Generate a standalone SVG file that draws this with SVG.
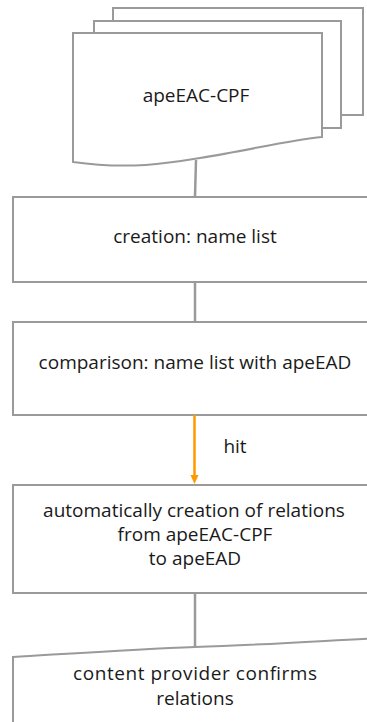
<svg xmlns="http://www.w3.org/2000/svg" width="367" height="722" viewBox="0 0 367 722">
<style>
.shape{fill:#fff;stroke:#9a9a9a;stroke-width:2}
.conn{stroke:#9a9a9a;stroke-width:2.5;fill:none}
.lbl{font-family:"Open Sans","Liberation Sans",sans-serif;font-size:19px;fill:#1a1a1a;text-anchor:middle}
</style>
<g id="node-apeEAC-CPF">
<rect class="shape" x="113" y="8" width="250" height="107"/>
<rect class="shape" x="94" y="21" width="247" height="107"/>
<path class="shape" d="M73,33 L322,33 L322,137 C290,140 250,150 200,158 C170,163 130,170 73,162 Z"/>
<text class="lbl" x="196" y="102">apeEAC-CPF</text>
</g>
<g id="node-creation">
<rect class="shape" x="13" y="197" width="364" height="85"/>
<text class="lbl" x="195" y="243">creation: name list</text>
</g>
<g id="node-comparison">
<rect class="shape" x="13" y="322" width="364" height="93"/>
<text class="lbl" x="195" y="369">comparison: name list with apeEAD</text>
</g>
<g id="node-automatic">
<rect class="shape" x="13" y="485" width="364" height="108"/>
<text class="lbl" x="194" y="517" fill="#000">automatically creation of relations</text>
<text class="lbl" x="195" y="541" fill="#000">from apeEAC-CPF</text>
<text class="lbl" x="195" y="565" fill="#000">to apeEAD</text>
</g>
<g id="node-confirm">
<path class="shape" d="M13,740 L13,657 C80,653 140,649 195,647 C260,645 320,641 380,638 L380,740 Z"/>
<text class="lbl" x="195" y="680" textLength="244">content provider confirms</text>
<text class="lbl" x="195" y="705">relations</text>
</g>
<g id="connectors">
<line class="conn" x1="196" y1="160" x2="195" y2="197"/>
<line class="conn" x1="195" y1="282" x2="195" y2="322"/>
<line x1="194.5" y1="415" x2="194.5" y2="476" stroke="#FF9900" stroke-width="2.5"/>
<polygon points="190.5,475 198.5,475 194.5,484" fill="#FF9900"/>
<text class="lbl" x="235" y="453" fill="#000">hit</text>
<line class="conn" x1="195" y1="593" x2="195" y2="647"/>
</g>
</svg>
